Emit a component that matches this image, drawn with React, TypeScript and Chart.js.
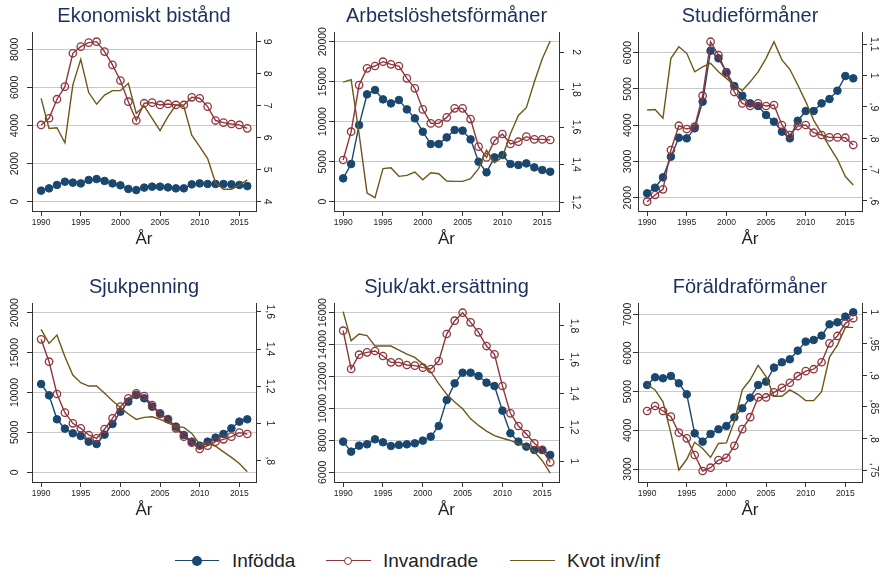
import React, { useEffect, useRef } from "react";
import { Chart, registerables } from "chart.js";

Chart.register(...registerables);

// ---------- data ----------
const years = [1990, 1991, 1992, 1993, 1994, 1995, 1996, 1997, 1998, 1999, 2000, 2001, 2002, 2003, 2004, 2005, 2006, 2007, 2008, 2009, 2010, 2011, 2012, 2013, 2014, 2015, 2016];
const xTickValues = [1990, 1995, 2000, 2005, 2010, 2015];
const seriesNames = ["Infödda", "Invandrade", "Kvot inv/inf"];
const xTitle = "År";

// Ekonomiskt bistånd
const ekoInfodda = [580, 700, 880, 1050, 1000, 960, 1140, 1190, 1090, 960, 860, 670, 610, 740, 790, 790, 750, 700, 700, 910, 960, 930, 930, 930, 910, 880, 820];
const ekoInvandrade = [4030, 4380, 5380, 6040, 7790, 8140, 8350, 8400, 7880, 7180, 6360, 5250, 4260, 5170, 5200, 5080, 5130, 5080, 5080, 5480, 5430, 4990, 4260, 4150, 4080, 4030, 3850];
const ekoKvot = [7.23, 6.29, 6.31, 5.84, 7.65, 8.45, 7.41, 7.05, 7.33, 7.47, 7.47, 7.7, 6.76, 6.99, 6.6, 6.22, 6.66, 7.02, 6.97, 6.08, 5.72, 5.35, 4.59, 4.39, 4.39, 4.52, 4.68];
const ekoLeftTicks = [0, 2000, 4000, 6000, 8000];
const ekoRightTicks = [4, 5, 6, 7, 8, 9];
const ekoRightLabels = ["4", "5", "6", "7", "8", "9"];

// Arbetslöshetsförmåner
const arbInfodda = [2920, 4710, 9580, 13420, 13960, 12790, 12290, 12710, 11540, 10420, 8750, 7210, 7210, 8040, 8960, 8880, 7790, 5000, 3670, 5540, 5830, 4710, 4580, 4790, 4290, 3960, 3750];
const arbInvandrade = [5210, 8750, 14580, 16670, 16960, 17500, 17170, 16960, 15420, 14170, 11540, 9790, 9790, 10540, 11670, 11670, 10330, 6880, 5540, 7630, 8460, 7210, 7500, 8130, 7790, 7790, 7710];
const arbKvot = [1.84, 1.853, 1.564, 1.248, 1.223, 1.378, 1.383, 1.337, 1.342, 1.36, 1.319, 1.356, 1.351, 1.312, 1.31, 1.31, 1.324, 1.378, 1.476, 1.41, 1.44, 1.564, 1.662, 1.703, 1.84, 1.964, 2.059];
const arbLeftTicks = [0, 5000, 10000, 15000, 20000];
const arbRightTicks = [1.2, 1.4, 1.6, 1.8, 2];
const arbRightLabels = ["1,2", "1,4", "1,6", "1,8", "2"];

// Studieförmåner
const stuInfodda = [2120, 2276, 2561, 3131, 3655, 3637, 3913, 4648, 6055, 5844, 5467, 5080, 4814, 4602, 4529, 4280, 4097, 3821, 3637, 4124, 4391, 4391, 4602, 4722, 4952, 5356, 5292];
const stuInvandrade = [1890, 2074, 2230, 3315, 3986, 3894, 3959, 4814, 6303, 5936, 5448, 4915, 4602, 4529, 4602, 4529, 4556, 4005, 3729, 3977, 4005, 3793, 3729, 3664, 3664, 3655, 3453];
const stuKvot = [0.89, 0.892, 0.864, 1.055, 1.092, 1.071, 1.012, 1.028, 1.039, 1.012, 0.991, 0.97, 0.952, 0.98, 1.012, 1.055, 1.108, 1.05, 1.02, 0.97, 0.917, 0.858, 0.816, 0.773, 0.733, 0.678, 0.651];
const stuLeftTicks = [2000, 3000, 4000, 5000, 6000];
const stuRightTicks = [0.6, 0.7, 0.8, 0.9, 1, 1.1];
const stuRightLabels = [",6", ",7", ",8", ",9", "1", "1,1"];

// Sjukpenning
const sjpInfodda = [11065, 9645, 6639, 5470, 4885, 4551, 3841, 3549, 4718, 6054, 7599, 8852, 9687, 9269, 8225, 7307, 6639, 5720, 4676, 3841, 3340, 3841, 4342, 4802, 5511, 6347, 6639];
const sjpInvandrade = [16660, 13862, 9812, 7474, 6138, 5511, 4676, 4259, 5428, 6764, 8225, 9269, 9896, 9562, 8434, 7390, 6681, 5511, 4468, 3716, 2923, 3340, 3841, 4134, 4468, 4969, 4802];
const sjpKvot = [1.505, 1.43, 1.475, 1.358, 1.26, 1.219, 1.201, 1.201, 1.162, 1.122, 1.086, 1.051, 1.022, 1.033, 1.036, 1.022, 1.004, 0.983, 0.979, 0.947, 0.889, 0.893, 0.878, 0.848, 0.818, 0.785, 0.741];
const sjpLeftTicks = [0, 5000, 10000, 15000, 20000];
const sjpRightTicks = [0.8, 1, 1.2, 1.4, 1.6];
const sjpRightLabels = [",8", "1", "1,2", "1,4", "1,6"];

// Sjuk/akt.ersättning
const sjaInfodda = [7921, 7294, 7670, 7754, 8067, 7879, 7649, 7712, 7754, 7816, 7983, 8234, 8902, 10530, 11574, 12242, 12242, 12033, 11616, 11407, 9862, 8443, 7921, 7608, 7399, 7399, 7086];
const sjaInvandrade = [14873, 12472, 13370, 13516, 13599, 13286, 12889, 12889, 12722, 12681, 12555, 12472, 12973, 14664, 15499, 16000, 15395, 14768, 13912, 13390, 11407, 9695, 8902, 8401, 7816, 7399, 6626];
const sjaKvot = [1.885, 1.713, 1.752, 1.743, 1.681, 1.681, 1.681, 1.657, 1.633, 1.614, 1.574, 1.528, 1.459, 1.395, 1.35, 1.31, 1.25, 1.211, 1.177, 1.151, 1.135, 1.122, 1.102, 1.086, 1.056, 1.002, 0.929];
const sjaLeftTicks = [6000, 8000, 10000, 12000, 14000, 16000];
const sjaRightTicks = [1, 1.2, 1.4, 1.6, 1.8];
const sjaRightLabels = ["1", "1,2", "1,4", "1,6", "1,8"];

// Föräldraförmåner
const forInfodda = [5172, 5371, 5345, 5405, 5216, 4931, 3922, 3707, 3905, 4026, 4112, 4336, 4569, 4845, 5172, 5259, 5621, 5759, 5836, 6060, 6293, 6336, 6448, 6741, 6793, 6940, 7052];
const forInvandrade = [4500, 4629, 4500, 4353, 3940, 3793, 3362, 2948, 3034, 3230, 3290, 3600, 4030, 4340, 4850, 4850, 4980, 5100, 5230, 5400, 5530, 5580, 5760, 6250, 6440, 6767, 6897];
const forKvot = [0.886, 0.877, 0.858, 0.808, 0.75, 0.767, 0.794, 0.784, 0.77, 0.792, 0.793, 0.827, 0.877, 0.893, 0.916, 0.898, 0.867, 0.867, 0.877, 0.87, 0.86, 0.86, 0.874, 0.929, 0.948, 0.976, 0.976];
const forLeftTicks = [3000, 4000, 5000, 6000, 7000];
const forRightTicks = [0.75, 0.8, 0.85, 0.9, 0.95, 1];
const forRightLabels = [",75", ",8", ",85", ",9", ",95", "1"];

// ---------- panel specs (built from the arrays above) ----------
type Spec = {
  title: string;
  a: number[]; b: number[]; r: number[];
  leftTicks: number[]; rightTicks: number[]; rightLabels: string[];
  yMin: number; yMax: number; y1Min: number; y1Max: number;
};

const specs: Spec[] = [
  { title: "Ekonomiskt bistånd", a: ekoInfodda, b: ekoInvandrade, r: ekoKvot, leftTicks: ekoLeftTicks, rightTicks: ekoRightTicks, rightLabels: ekoRightLabels, yMin: -488, yMax: 8908, y1Min: 3.709, y1Max: 9.303 },
  { title: "Arbetslöshetsförmåner", a: arbInfodda, b: arbInvandrade, r: arbKvot, leftTicks: arbLeftTicks, rightTicks: arbRightTicks, rightLabels: arbRightLabels, yMin: -1162, yMax: 21212, y1Min: 1.152, y1Max: 2.107 },
  { title: "Studieförmåner", a: stuInfodda, b: stuInvandrade, r: stuKvot, leftTicks: stuLeftTicks, rightTicks: stuRightTicks, rightLabels: stuRightLabels, yMin: 1633, yMax: 6571, y1Min: 0.568, y1Max: 1.139 },
  { title: "Sjukpenning", a: sjpInfodda, b: sjpInvandrade, r: sjpKvot, leftTicks: sjpLeftTicks, rightTicks: sjpRightTicks, rightLabels: sjpRightLabels, yMin: -1216, yMax: 21216, y1Min: 0.686, y1Max: 1.647 },
  { title: "Sjuk/akt.ersättning", a: sjaInfodda, b: sjaInvandrade, r: sjaKvot, leftTicks: sjaLeftTicks, rightTicks: sjaRightTicks, rightLabels: sjaRightLabels, yMin: 5392, yMax: 16608, y1Min: 0.876, y1Max: 1.936 },
  { title: "Föräldraförmåner", a: forInfodda, b: forInvandrade, r: forKvot, leftTicks: forLeftTicks, rightTicks: forRightTicks, rightLabels: forRightLabels, yMin: 2664, yMax: 7292, y1Min: 0.731, y1Max: 1.0147 },
];

// ---------- layout & style ----------
const boxes = [
  { left: 0, top: 0, L: 32, P: 224, R: 30, lo: 17, ro: 10.7 },
  { left: 290, top: 0, L: 44, P: 225, R: 28, lo: 11, ro: 16.5 },
  { left: 585, top: 0, L: 53, P: 224, R: 20, lo: 10, ro: 12 },
  { left: 0, top: 271, L: 32, P: 224, R: 30, lo: 17, ro: 14 },
  { left: 290, top: 271, L: 44, P: 225, R: 28, lo: 11, ro: 15 },
  { left: 585, top: 271, L: 53, P: 224, R: 20, lo: 10, ro: 12 },
];
const PANEL_H = 262;
const X_MIN = 1988.85;
const X_MAX = 2017.1;
const FAMILY = '"Liberation Sans", Arial, Helvetica, sans-serif';
const Y_TICK_SIZE = 10.5;
const X_TICK_SIZE = 8.5;
const TICK_LEN = 5;
const BLUE = "#1a476f";
const RED = "#90353b";
const BROWN = "#6f561b";
const TITLE_COLOR = "#1e2f5e";
const TEXT = "#222222";
const AXIS = "#333333";
const GRID = "#c9c9c9";

let measureCtx: CanvasRenderingContext2D | null = null;
function textWidth(t: string, size: number) {
  if (!measureCtx) measureCtx = document.createElement("canvas").getContext("2d");
  measureCtx!.font = `normal ${size}px ${FAMILY}`;
  return measureCtx!.measureText(t).width;
}

function Panel({ spec, box }: { spec: Spec; box: typeof boxes[number] }) {
  const ref = useRef<HTMLCanvasElement>(null);
  useEffect(() => {
    const leftLabels = spec.leftTicks.map((v) => String(v));
    const leftWidest = Math.max(...leftLabels.map((t) => textWidth(t, Y_TICK_SIZE)));
    const rightWidest = Math.max(...spec.rightLabels.map((t) => textWidth(t, Y_TICK_SIZE)));
    const toPts = (vals: number[]) => years.map((yr, i) => ({ x: yr, y: vals[i] }));
    const chart = new Chart(ref.current!, {
      type: "line",
      data: {
        datasets: [
          {
            label: seriesNames[0], data: toPts(spec.a), yAxisID: "y", order: 2,
            borderColor: BLUE, backgroundColor: BLUE, borderWidth: 1.4,
            pointRadius: 3.8, pointBorderWidth: 1, pointBackgroundColor: BLUE, pointBorderColor: BLUE,
          },
          {
            label: seriesNames[1], data: toPts(spec.b), yAxisID: "y", order: 1,
            borderColor: RED, backgroundColor: "rgba(0,0,0,0)", borderWidth: 1.4,
            pointRadius: 3.7, pointBorderWidth: 1.3, pointBackgroundColor: "rgba(0,0,0,0)", pointBorderColor: RED,
          },
          {
            label: seriesNames[2], data: toPts(spec.r), yAxisID: "y1", order: 0,
            borderColor: BROWN, borderWidth: 1.4, pointRadius: 0,
          },
        ],
      },
      options: {
        animation: false,
        responsive: false,
        devicePixelRatio: 1,
        events: [],
        layout: { padding: { left: 0, right: 0, top: 0, bottom: PANEL_H - 211 - 40 } },
        plugins: {
          legend: { display: false },
          tooltip: { enabled: false },
          title: {
            display: true, text: spec.title, color: TITLE_COLOR, fullSize: false,
            font: { family: FAMILY, size: 20, weight: "normal" as any, lineHeight: 1.2 },
            padding: { top: 4, bottom: 4 },
          },
        },
        scales: {
          x: {
            type: "linear", position: "bottom", min: X_MIN, max: X_MAX,
            afterBuildTicks: (s: any) => { s.ticks = xTickValues.map((v) => ({ value: v })); },
            afterFit: (s: any) => { s.height = 40; },
            ticks: {
              callback: (v: any) => String(v), autoSkip: false, maxRotation: 0, minRotation: 0,
              color: TEXT, padding: 1.5, font: { family: FAMILY, size: X_TICK_SIZE },
            },
            grid: { drawOnChartArea: false, drawTicks: true, tickLength: TICK_LEN, tickColor: AXIS, tickWidth: 1 },
            border: { display: true, color: AXIS, width: 1 },
            title: {
              display: true, text: xTitle, color: TEXT,
              font: { family: FAMILY, size: 17, lineHeight: 1.2 }, padding: { top: 0, bottom: 1.8 },
            },
          },
          y: {
            type: "linear", position: "left", min: spec.yMin, max: spec.yMax, bounds: "data",
            afterBuildTicks: (s: any) => { s.ticks = spec.leftTicks.map((v) => ({ value: v })); },
            afterFit: (s: any) => { s.width = box.L; },
            ticks: {
              callback: (v: any) => String(v), autoSkip: false, minRotation: 90, maxRotation: 90,
              crossAlign: "center", padding: box.lo - TICK_LEN - leftWidest / 2,
              color: TEXT, font: { family: FAMILY, size: Y_TICK_SIZE },
            },
            grid: { drawOnChartArea: true, color: GRID, lineWidth: 1, drawTicks: true, tickLength: TICK_LEN, tickColor: AXIS, tickWidth: 1 },
            border: { display: true, color: AXIS, width: 1 },
          },
          y1: {
            type: "linear", position: "right", min: spec.y1Min, max: spec.y1Max, bounds: "data",
            afterBuildTicks: (s: any) => { s.ticks = spec.rightTicks.map((v) => ({ value: v })); },
            afterFit: (s: any) => { s.width = box.R; },
            ticks: {
              callback: (v: any) => {
                const i = spec.rightTicks.findIndex((t) => Math.abs(t - v) < 1e-9);
                return i >= 0 ? spec.rightLabels[i] : "";
              },
              autoSkip: false, minRotation: -90, maxRotation: -90,
              crossAlign: "center", padding: box.ro - TICK_LEN - rightWidest / 2,
              color: TEXT, font: { family: FAMILY, size: Y_TICK_SIZE },
            },
            grid: { drawOnChartArea: false, drawTicks: true, tickLength: TICK_LEN, tickColor: AXIS, tickWidth: 1 },
            border: { display: true, color: AXIS, width: 1 },
          },
        },
      } as any,
    });
    return () => chart.destroy();
  }, []);
  const w = box.L + box.P + box.R;
  return (
    <canvas
      ref={ref}
      width={w}
      height={PANEL_H}
      style={{ position: "absolute", left: box.left, top: box.top, width: w, height: PANEL_H }}
    />
  );
}

const legendLayout = [
  { lineX: 175, lineW: 44, textX: 232, color: BLUE, marker: "filled" },
  { lineX: 326, lineW: 45, textX: 383, color: RED, marker: "hollow" },
  { lineX: 510, lineW: 45, textX: 567, color: BROWN, marker: "none" },
];
const LEGEND_Y = 561;

function Legend() {
  return (
    <>
      {legendLayout.map((it, i) => (
        <React.Fragment key={i}>
          <div style={{ position: "absolute", left: it.lineX, top: LEGEND_Y - 1, width: it.lineW, height: 0, borderTop: `1.6px solid ${it.color}` }} />
          {it.marker === "filled" && (
            <div style={{ position: "absolute", left: it.lineX + it.lineW / 2 - 5, top: LEGEND_Y - 5, width: 10, height: 10, borderRadius: "50%", background: it.color }} />
          )}
          {it.marker === "hollow" && (
            <div style={{ position: "absolute", left: it.lineX + it.lineW / 2 - 4.5, top: LEGEND_Y - 4.5, width: 6, height: 6, borderRadius: "50%", background: "#fff", border: `1.5px solid ${it.color}` }} />
          )}
          <div style={{ position: "absolute", left: it.textX, top: LEGEND_Y - 12, height: 24, lineHeight: "24px", fontSize: 19, fontFamily: FAMILY, color: TEXT, whiteSpace: "nowrap" }}>
            {seriesNames[i]}
          </div>
        </React.Fragment>
      ))}
    </>
  );
}

export default function App() {
  return (
    <div style={{ position: "absolute", left: 0, top: 0, width: 882, height: 574, background: "#ffffff", overflow: "hidden" }}>
      {specs.map((s, i) => (
        <Panel key={i} spec={s} box={boxes[i]} />
      ))}
      <Legend />
    </div>
  );
}
